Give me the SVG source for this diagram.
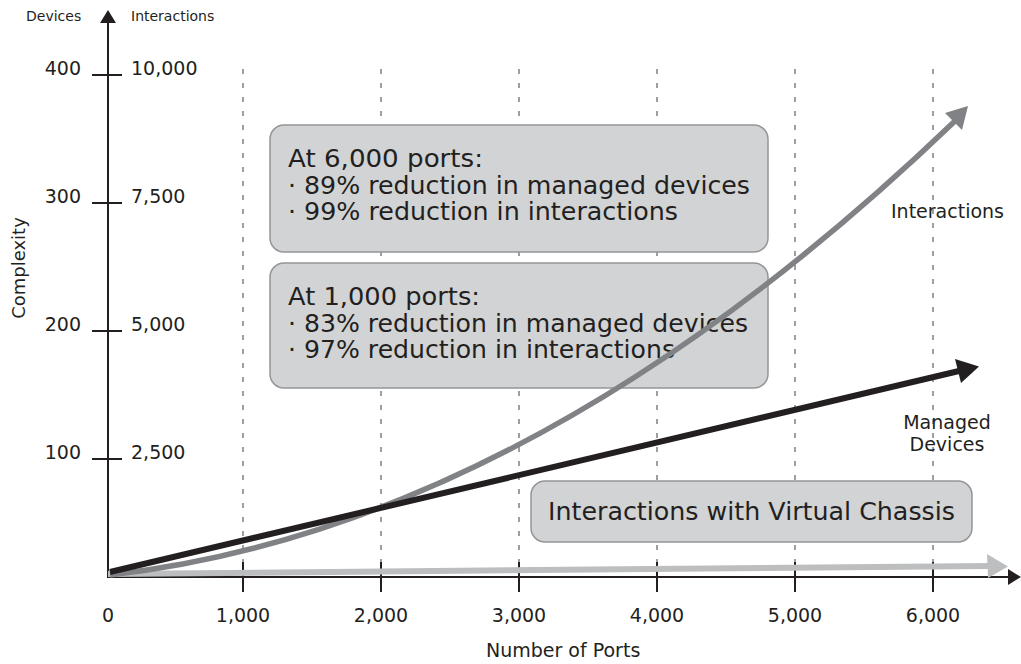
<svg xmlns="http://www.w3.org/2000/svg" width="1021" height="664" viewBox="0 0 1021 664">
  <style>
    text { font-family: "DejaVu Sans", "Liberation Sans", sans-serif; fill: #231f20; }
    .grid { stroke: #9d9fa2; stroke-width: 2; stroke-dasharray: 5 9; fill: none; }
    .axis { stroke: #231f20; stroke-width: 2; fill: none; }
    .box { fill: #d1d3d4; stroke: #939598; stroke-width: 1.5; }
    .lbl { font-size: 19px; }
    .small { font-size: 14px; }
    .boxtxt { font-size: 24px; }
  </style>

  <rect width="1021" height="664" fill="#ffffff"/>

  <!-- vertical dashed guides at each 1,000 ports -->
  <g id="grid">
    <line class="grid" x1="243" y1="69" x2="243" y2="577"/>
    <line class="grid" x1="381" y1="69" x2="381" y2="577"/>
    <line class="grid" x1="519" y1="69" x2="519" y2="577"/>
    <line class="grid" x1="657" y1="69" x2="657" y2="577"/>
    <line class="grid" x1="795" y1="69" x2="795" y2="577"/>
    <line class="grid" x1="933" y1="69" x2="933" y2="577"/>
  </g>

  <!-- axes with ticks -->
  <g id="axes">
    <line class="axis" x1="108" y1="578" x2="108" y2="22"/>
    <polygon points="100,23 108,10 116,23" fill="#231f20"/>
    <line class="axis" x1="107" y1="577" x2="1009" y2="577"/>
    <polygon points="1008,569 1021,577 1008,585" fill="#231f20"/>
    <line class="axis" x1="92" y1="75" x2="122" y2="75"/>
    <line class="axis" x1="92" y1="203" x2="122" y2="203"/>
    <line class="axis" x1="92" y1="331" x2="122" y2="331"/>
    <line class="axis" x1="92" y1="459" x2="122" y2="459"/>
    <line class="axis" x1="243" y1="562" x2="243" y2="592"/>
    <line class="axis" x1="381" y1="562" x2="381" y2="592"/>
    <line class="axis" x1="519" y1="562" x2="519" y2="592"/>
    <line class="axis" x1="657" y1="562" x2="657" y2="592"/>
    <line class="axis" x1="795" y1="562" x2="795" y2="592"/>
    <line class="axis" x1="933" y1="562" x2="933" y2="592"/>
  </g>

  <!-- axis labels -->
  <g id="axis-labels">
    <text class="small" x="26" y="21">Devices</text>
    <text class="small" x="131" y="21">Interactions</text>
    <text class="lbl" x="81" y="75" text-anchor="end">400</text>
    <text class="lbl" x="81" y="203" text-anchor="end">300</text>
    <text class="lbl" x="81" y="331" text-anchor="end">200</text>
    <text class="lbl" x="81" y="459" text-anchor="end">100</text>
    <text class="lbl" x="131" y="75">10,000</text>
    <text class="lbl" x="131" y="203">7,500</text>
    <text class="lbl" x="131" y="331">5,000</text>
    <text class="lbl" x="131" y="459">2,500</text>
    <text font-size="18" transform="translate(25,268) rotate(-90)" text-anchor="middle">Complexity</text>
    <text class="lbl" x="108" y="622" text-anchor="middle">0</text>
    <text class="lbl" x="243" y="622" text-anchor="middle">1,000</text>
    <text class="lbl" x="381" y="622" text-anchor="middle">2,000</text>
    <text class="lbl" x="519" y="622" text-anchor="middle">3,000</text>
    <text class="lbl" x="657" y="622" text-anchor="middle">4,000</text>
    <text class="lbl" x="795" y="622" text-anchor="middle">5,000</text>
    <text class="lbl" x="933" y="622" text-anchor="middle">6,000</text>
    <text class="lbl" x="486" y="657">Number of Ports</text>
  </g>

  <!-- callout boxes -->
  <g id="note-6000">
    <rect class="box" x="270" y="125" width="498" height="127" rx="14"/>
    <text class="boxtxt" x="288" y="167" textLength="195" lengthAdjust="spacingAndGlyphs">At 6,000 ports:</text>
    <text class="boxtxt" x="288" y="194" textLength="462" lengthAdjust="spacingAndGlyphs">· 89% reduction in managed devices</text>
    <text class="boxtxt" x="288" y="220" textLength="390" lengthAdjust="spacingAndGlyphs">· 99% reduction in interactions</text>
  </g>
  <g id="note-1000">
    <rect class="box" x="270" y="263" width="498" height="125" rx="14"/>
    <text class="boxtxt" x="288" y="305" textLength="192" lengthAdjust="spacingAndGlyphs">At 1,000 ports:</text>
    <text class="boxtxt" x="288" y="332" textLength="460" lengthAdjust="spacingAndGlyphs">· 83% reduction in managed devices</text>
    <text class="boxtxt" x="288" y="358" textLength="387" lengthAdjust="spacingAndGlyphs">· 97% reduction in interactions</text>
  </g>
  <g id="note-vc">
    <rect class="box" x="531" y="481" width="441" height="61" rx="14"/>
    <text class="boxtxt" x="548" y="520" textLength="407" lengthAdjust="spacingAndGlyphs">Interactions with Virtual Chassis</text>
  </g>

  <!-- series labels -->
  <g id="series-labels">
    <text class="lbl" x="891" y="218">Interactions</text>
    <text class="lbl" x="947" y="429" text-anchor="middle">Managed</text>
    <text class="lbl" x="947" y="451" text-anchor="middle">Devices</text>
  </g>

  <!-- data series -->
  <g id="connectors">
    <g id="vc-interactions">
      <line x1="108" y1="574" x2="989" y2="566" stroke="#bcbec0" stroke-width="6"/>
      <polygon points="987,554 1008,566.5 988,578" fill="#bcbec0"/>
    </g>
    <g id="interactions">
      <path d="M110,575 Q532,527 955,121" fill="none" stroke="#808285" stroke-width="5.5"/>
      <polygon points="945,113 968,106 962,130" fill="#808285"/>
    </g>
    <g id="managed-devices">
      <line x1="110" y1="572" x2="959" y2="371" stroke="#231f20" stroke-width="6"/>
      <polygon points="955,359 979,366.5 961,383" fill="#231f20"/>
    </g>
  </g>
</svg>
